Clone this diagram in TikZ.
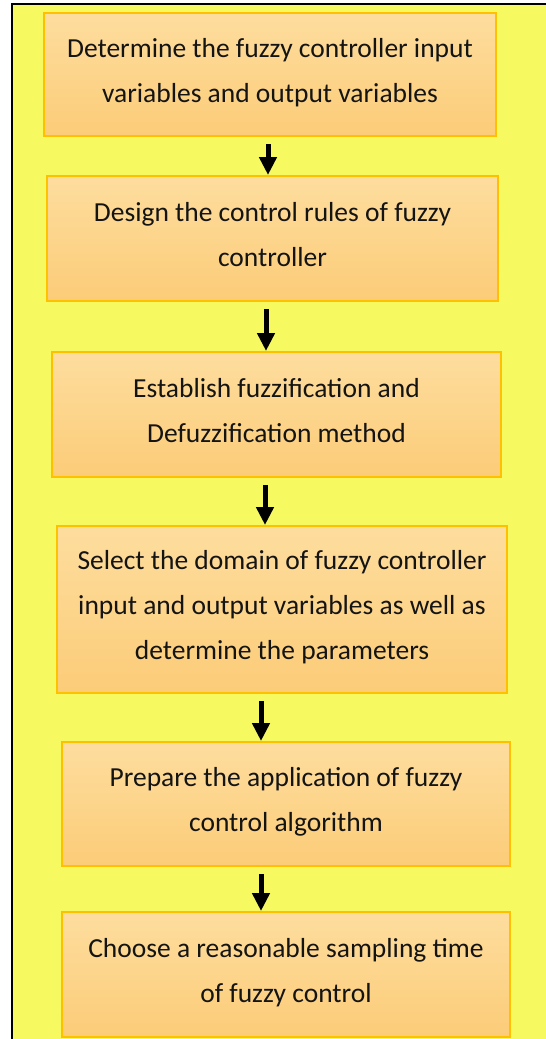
\documentclass[tikz,border=0pt]{standalone}
\usepackage{fontspec}
\setmainfont{Carlito}
\usetikzlibrary{arrows.meta}
\usetikzlibrary{shadings}

\definecolor{bgyellow}{RGB}{246,250,96}
\definecolor{boxtop}{RGB}{253,221,158}
\definecolor{boxbot}{RGB}{252,204,120}
\definecolor{boxline}{RGB}{255,192,0}
\definecolor{txtcol}{RGB}{20,20,20}

\begin{document}
\begin{tikzpicture}[x=1pt,y=-1pt,
  stepbox/.style={draw=boxline, line width=2pt, top color=boxtop, bottom color=boxbot,
    align=center, text=txtcol, inner sep=0pt, font=\fontsize{27.5}{45}\selectfont},
  flow/.style={-{Triangle[width=17pt,length=18pt]}, line width=5pt}]

	\useasboundingbox (0,0) rectangle (546,1039);

	%background
	\fill[bgyellow] (12,4) rectangle (546,1039);
	\draw[line width=1.5pt] (12,1039) -- (12,4) -- (546,4);

	%draw steps
    \foreach \name/\xa/\ya/\xb/\yb/\txt in {
      b1/44/13/496/136/{Determine the fuzzy controller input\\variables and output variables},
      b2/47/176/498/301/{Design the control rules of fuzzy\\controller},
      b3/52/352/501/477/{Establish fuzzification and\\Defuzzification method},
      b4/57/526/507/693/{Select the domain of fuzzy controller\\input and output variables as well as\\determine the parameters},
      b5/62/742/510/866/{Prepare the application of fuzzy\\control algorithm},
      b6/62/912/510/1037/{Choose a reasonable sampling time\\of fuzzy control}}{
         \node[stepbox, minimum width={(\xb-\xa)*1pt}, minimum height={(\yb-\ya)*1pt}]
           (\name) at ({(\xa+\xb)/2},{(\ya+\yb)/2}) {\txt\\[-36pt]\mbox{}};
    }

	%draw arrows
    \foreach \up/\down/\ax in {b1/b2/268, b2/b3/266, b3/b4/265, b4/b5/261, b5/b6/261}{
         \coordinate (x\up) at (\ax,0);
         \draw[flow] ([yshift=-7pt]\up.south -| x\up) -- (\down.north -| x\up);
    }

\end{tikzpicture}
\end{document}
